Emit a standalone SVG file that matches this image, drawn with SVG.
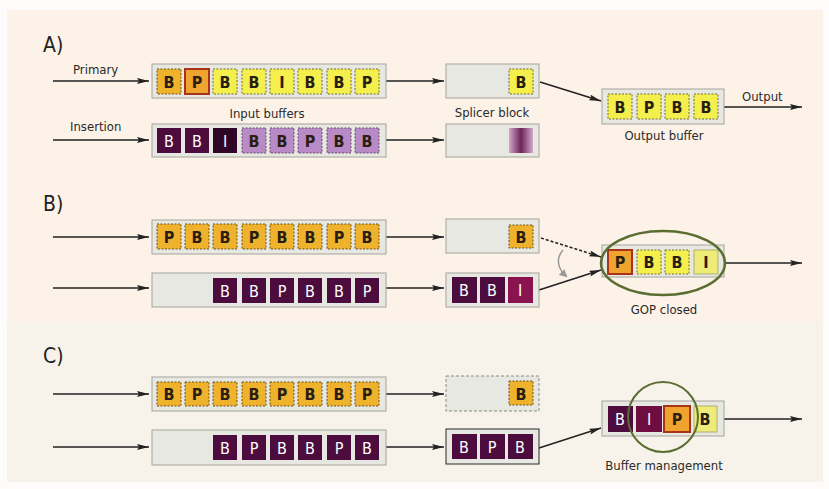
<svg xmlns="http://www.w3.org/2000/svg" width="829" height="489" viewBox="0 0 829 489">
<defs>
<marker id="ah" viewBox="0 0 12 6" refX="12" refY="3" markerWidth="12" markerHeight="6" markerUnits="userSpaceOnUse" orient="auto"><path d="M0,0 L12,3 L0,6 L2,3 Z" fill="#222"/></marker>
<marker id="ahg" viewBox="0 0 8 8" refX="6" refY="4" markerWidth="8" markerHeight="8" markerUnits="userSpaceOnUse" orient="auto"><path d="M0,0 L8,4 L0,8 Z" fill="#999"/></marker>
<linearGradient id="blur" x1="0" x2="1" y1="0" y2="0"><stop offset="0" stop-color="#d2a6cc"/><stop offset="0.5" stop-color="#6e2456"/><stop offset="1" stop-color="#d2a6cc"/></linearGradient>
</defs>
<style>
text{font-family:"Liberation Sans Narrow","DejaVu Sans Condensed","Liberation Sans",sans-serif;}
.lbl{font-size:13px;fill:#2a2a2a;}
.sec{font-size:21px;fill:#222;}
.buf{fill:#e8e8e2;stroke:#a4a49c;stroke-width:1;}
.bufd{fill:#e8e8e2;stroke:#2a2a2a;stroke-width:1;}
.bufdash{fill:#e8e8e2;stroke:#8a8a84;stroke-width:1;stroke-dasharray:3 2;}
.y{fill:#f4ef4c;stroke:#6e6a3a;stroke-width:1;stroke-dasharray:2 1.5;}
.yl{fill:#eeec78;stroke:#b0ae70;stroke-width:1;}
.o{fill:#efb22c;stroke:#6a5020;stroke-width:1;stroke-dasharray:2 1.5;}
.or{fill:#eea42e;stroke:#a8321a;stroke-width:2;}
.d{fill:#4c0c3e;}
.dd{fill:#300628;}
.m{fill:#8a1450;}
.mi{fill:#6e0e40;}
.lp{fill:#b98bc6;stroke:#6a4a70;stroke-width:1;stroke-dasharray:2 1.5;}
.ct{font-size:16px;font-weight:bold;fill:#2a1e10;text-anchor:middle;}
.cw{font-size:16px;fill:#fff;text-anchor:middle;}
.cn{stroke:#222;stroke-width:1.5;fill:none;}
</style>
<rect x="0" y="0" width="829" height="489" fill="#fdfcfa"/>
<rect x="7" y="10" width="816" height="312" fill="#fcf2e8"/>
<rect x="7" y="322" width="816" height="160" fill="#f7f3ea"/>

<text class="sec" x="43" y="52">A)</text>
<text class="sec" x="43" y="211">B)</text>
<text class="sec" x="43" y="363">C)</text>

<g id="connectors">
<line class="cn" x1="53" y1="81" x2="149" y2="81" marker-end="url(#ah)"/>
<line class="cn" x1="53" y1="140" x2="149" y2="140" marker-end="url(#ah)"/>
<line class="cn" x1="386" y1="81" x2="444" y2="81" marker-end="url(#ah)"/>
<line class="cn" x1="386" y1="140" x2="444" y2="140" marker-end="url(#ah)"/>
<line class="cn" x1="540" y1="82" x2="601" y2="101" marker-end="url(#ah)"/>
<line class="cn" x1="724" y1="107" x2="802" y2="107" marker-end="url(#ah)"/>

<line class="cn" x1="53" y1="237" x2="149" y2="237" marker-end="url(#ah)"/>
<line class="cn" x1="53" y1="288" x2="149" y2="288" marker-end="url(#ah)"/>
<line class="cn" x1="386" y1="237" x2="444" y2="237" marker-end="url(#ah)"/>
<line class="cn" x1="386" y1="288" x2="444" y2="288" marker-end="url(#ah)"/>
<line class="cn" x1="541" y1="238" x2="601" y2="257" stroke-dasharray="3 2" marker-end="url(#ah)"/>
<line class="cn" x1="539" y1="290" x2="601" y2="270" marker-end="url(#ah)"/>
<path d="M563,250 C556,258 557,268 566,276" fill="none" stroke="#999" stroke-width="1.5" marker-end="url(#ahg)"/>
<line class="cn" x1="724" y1="263" x2="802" y2="263" marker-end="url(#ah)"/>

<line class="cn" x1="53" y1="394" x2="149" y2="394" marker-end="url(#ah)"/>
<line class="cn" x1="53" y1="447" x2="149" y2="447" marker-end="url(#ah)"/>
<line class="cn" x1="386" y1="394" x2="444" y2="394" marker-end="url(#ah)"/>
<line class="cn" x1="386" y1="447" x2="444" y2="447" marker-end="url(#ah)"/>
<line class="cn" x1="539" y1="448" x2="601" y2="428" marker-end="url(#ah)"/>
<line class="cn" x1="724" y1="419" x2="802" y2="419" marker-end="url(#ah)"/>
</g>

<text class="lbl" x="73" y="74">Primary</text>
<text class="lbl" x="70" y="131">Insertion</text>
<text class="lbl" x="267" y="118" text-anchor="middle">Input buffers</text>
<text class="lbl" x="492" y="117" text-anchor="middle">Splicer block</text>
<text class="lbl" x="664" y="140" text-anchor="middle">Output buffer</text>
<text class="lbl" x="742" y="101">Output</text>
<text class="lbl" x="664" y="314" text-anchor="middle">GOP closed</text>
<text class="lbl" x="664" y="470" text-anchor="middle">Buffer management</text>

<!-- Section A -->
<g id="a-primary">
<rect class="buf" x="152" y="64" width="234" height="34"/>
<rect class="o" x="157" y="69" width="24" height="25"/><text class="ct" x="169" y="88">B</text>
<rect class="or" x="185" y="69" width="24" height="25"/><text class="ct" x="197" y="88">P</text>
<rect class="y" x="213" y="69" width="24" height="25"/><text class="ct" x="225" y="88">B</text>
<rect class="y" x="242" y="69" width="24" height="25"/><text class="ct" x="254" y="88">B</text>
<rect class="y" x="270" y="69" width="24" height="25"/><text class="ct" x="282" y="88">I</text>
<rect class="y" x="298" y="69" width="24" height="25"/><text class="ct" x="310" y="88">B</text>
<rect class="y" x="327" y="69" width="24" height="25"/><text class="ct" x="339" y="88">B</text>
<rect class="y" x="355" y="69" width="24" height="25"/><text class="ct" x="367" y="88">P</text>
</g>
<g id="a-insertion">
<rect class="buf" x="152" y="124" width="234" height="33"/>
<rect class="d" x="157" y="128" width="24" height="25"/><text class="cw" x="169" y="147">B</text>
<rect class="d" x="185" y="128" width="24" height="25"/><text class="cw" x="197" y="147">B</text>
<rect class="dd" x="213" y="128" width="24" height="25"/><text class="cw" x="225" y="147">I</text>
<rect class="lp" x="242" y="128" width="24" height="25"/><text class="ct" x="254" y="147">B</text>
<rect class="lp" x="270" y="128" width="24" height="25"/><text class="ct" x="282" y="147">B</text>
<rect class="lp" x="298" y="128" width="24" height="25"/><text class="ct" x="310" y="147">P</text>
<rect class="lp" x="327" y="128" width="24" height="25"/><text class="ct" x="339" y="147">B</text>
<rect class="lp" x="355" y="128" width="24" height="25"/><text class="ct" x="367" y="147">B</text>
</g>
<g id="a-splicer-top">
<rect class="buf" x="446" y="64" width="93" height="34"/>
<rect class="y" x="509" y="69" width="24" height="25"/><text class="ct" x="521" y="88">B</text>
</g>
<g id="a-splicer-bottom">
<rect class="buf" x="446" y="124" width="93" height="33"/>
<rect x="509" y="128" width="24" height="25" fill="url(#blur)"/>
</g>
<g id="a-output">
<rect class="buf" x="602" y="89" width="122" height="35"/>
<rect class="y" x="608" y="94" width="24" height="25"/><text class="ct" x="620" y="113">B</text>
<rect class="y" x="637" y="94" width="24" height="25"/><text class="ct" x="649" y="113">P</text>
<rect class="y" x="665" y="94" width="24" height="25"/><text class="ct" x="677" y="113">B</text>
<rect class="y" x="694" y="94" width="24" height="25"/><text class="ct" x="706" y="113">B</text>
</g>

<!-- Section B -->
<g id="b-primary">
<rect class="buf" x="152" y="220" width="234" height="34"/>
<rect class="o" x="157" y="224" width="24" height="25"/><text class="ct" x="169" y="243">P</text>
<rect class="o" x="185" y="224" width="24" height="25"/><text class="ct" x="197" y="243">B</text>
<rect class="o" x="213" y="224" width="24" height="25"/><text class="ct" x="225" y="243">B</text>
<rect class="o" x="242" y="224" width="24" height="25"/><text class="ct" x="254" y="243">P</text>
<rect class="o" x="270" y="224" width="24" height="25"/><text class="ct" x="282" y="243">B</text>
<rect class="o" x="298" y="224" width="24" height="25"/><text class="ct" x="310" y="243">B</text>
<rect class="o" x="327" y="224" width="24" height="25"/><text class="ct" x="339" y="243">P</text>
<rect class="o" x="355" y="224" width="24" height="25"/><text class="ct" x="367" y="243">B</text>
</g>
<g id="b-insertion">
<rect class="buf" x="152" y="273" width="234" height="34"/>
<rect class="d" x="213" y="278" width="24" height="25"/><text class="cw" x="225" y="297">B</text>
<rect class="d" x="242" y="278" width="24" height="25"/><text class="cw" x="254" y="297">B</text>
<rect class="d" x="270" y="278" width="24" height="25"/><text class="cw" x="282" y="297">P</text>
<rect class="d" x="298" y="278" width="24" height="25"/><text class="cw" x="310" y="297">B</text>
<rect class="d" x="327" y="278" width="24" height="25"/><text class="cw" x="339" y="297">B</text>
<rect class="d" x="355" y="278" width="24" height="25"/><text class="cw" x="367" y="297">P</text>
</g>
<g id="b-splicer-top">
<rect class="buf" x="446" y="219" width="93" height="34"/>
<rect class="o" x="509" y="225" width="24" height="23"/><text class="ct" x="521" y="243">B</text>
</g>
<g id="b-splicer-bottom">
<rect class="buf" x="446" y="273" width="93" height="34"/>
<rect class="d" x="452" y="277" width="25" height="26"/><text class="cw" x="464" y="296">B</text>
<rect class="d" x="480" y="277" width="25" height="26"/><text class="cw" x="492" y="296">B</text>
<rect class="m" x="508" y="277" width="25" height="26"/><text class="cw" x="520" y="296">I</text>
</g>
<g id="b-output">
<rect class="buf" x="602" y="245" width="122" height="32"/>
<rect class="or" x="608" y="250" width="24" height="24"/><text class="ct" x="620" y="268">P</text>
<rect class="y" x="637" y="250" width="24" height="24"/><text class="ct" x="649" y="268">B</text>
<rect class="y" x="665" y="250" width="24" height="24"/><text class="ct" x="677" y="268">B</text>
<rect class="yl" x="694" y="250" width="24" height="24"/><text class="ct" x="706" y="268">I</text>
<ellipse cx="663" cy="263" rx="62" ry="32" fill="none" stroke="#5a6e32" stroke-width="2.5"/>
</g>

<!-- Section C -->
<g id="c-primary">
<rect class="buf" x="152" y="377" width="234" height="34"/>
<rect class="o" x="157" y="382" width="24" height="24"/><text class="ct" x="169" y="400">B</text>
<rect class="o" x="185" y="382" width="24" height="24"/><text class="ct" x="197" y="400">P</text>
<rect class="o" x="213" y="382" width="24" height="24"/><text class="ct" x="225" y="400">B</text>
<rect class="o" x="242" y="382" width="24" height="24"/><text class="ct" x="254" y="400">B</text>
<rect class="o" x="270" y="382" width="24" height="24"/><text class="ct" x="282" y="400">P</text>
<rect class="o" x="298" y="382" width="24" height="24"/><text class="ct" x="310" y="400">B</text>
<rect class="o" x="327" y="382" width="24" height="24"/><text class="ct" x="339" y="400">B</text>
<rect class="o" x="355" y="382" width="24" height="24"/><text class="ct" x="367" y="400">P</text>
</g>
<g id="c-insertion">
<rect class="buf" x="152" y="430" width="234" height="35"/>
<rect class="d" x="213" y="435" width="24" height="25"/><text class="cw" x="225" y="454">B</text>
<rect class="d" x="242" y="435" width="24" height="25"/><text class="cw" x="254" y="454">P</text>
<rect class="d" x="270" y="435" width="24" height="25"/><text class="cw" x="282" y="454">B</text>
<rect class="d" x="298" y="435" width="24" height="25"/><text class="cw" x="310" y="454">B</text>
<rect class="d" x="327" y="435" width="24" height="25"/><text class="cw" x="339" y="454">P</text>
<rect class="d" x="355" y="435" width="24" height="25"/><text class="cw" x="367" y="454">B</text>
</g>
<g id="c-splicer-top">
<rect class="bufdash" x="446" y="376" width="93" height="35"/>
<rect class="o" x="509" y="381" width="24" height="24"/><text class="ct" x="521" y="400" fill="#2a3a14">B</text>
</g>
<g id="c-splicer-bottom">
<rect class="bufd" x="446" y="429" width="93" height="35"/>
<rect class="d" x="452" y="434" width="25" height="25"/><text class="cw" x="464" y="453">B</text>
<rect class="d" x="480" y="434" width="25" height="25"/><text class="cw" x="492" y="453">P</text>
<rect class="d" x="508" y="434" width="25" height="25"/><text class="cw" x="520" y="453">B</text>
</g>
<g id="c-output">
<rect class="buf" x="602" y="401" width="122" height="35"/>
<rect class="d" x="608" y="406" width="25" height="26"/><text class="cw" x="620" y="425">B</text>
<rect class="mi" x="636" y="406" width="26" height="26"/><text class="cw" x="649" y="425">I</text>
<rect class="or" x="664" y="406" width="26" height="26"/><text class="ct" x="677" y="425">P</text>
<rect class="yl" x="694" y="406" width="23" height="26"/><text class="ct" x="705" y="425">B</text>
<circle cx="663" cy="417" r="35" fill="none" stroke="#5a6e32" stroke-width="2"/>
</g>
</svg>
